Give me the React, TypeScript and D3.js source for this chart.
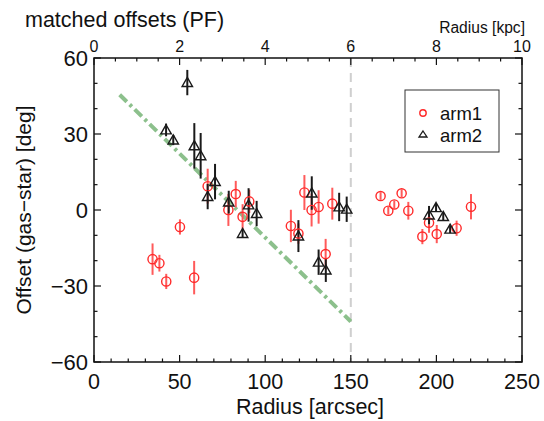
import React from "react";
import * as d3 from "d3";

const arm1Radius = [34.2, 38.2, 42.2, 50.2, 58.5, 66.4, 78.5, 82.8, 86.8, 90.7, 115, 119.4, 122.9, 127.1, 131.2, 135.3, 139.2, 167.4, 171.9, 175.4, 179.7, 183.6, 191.8, 195.7, 200.2, 211.8, 220.2];
const arm1Offset = [-19.4, -21, -28.2, -6.7, -26.7, 9.4, 0, 6.3, -2.7, 3.4, -6.3, -9.3, 6.9, 0, 1.2, -17.4, 2.5, 5.5, -0.3, 2.2, 6.6, -0.3, -10.5, -5, -9.5, -7.2, 1.3];
const arm1Err = [6.2, 3.3, 3, 3, 6.6, 6.9, 6.3, 5.2, 5, 4.6, 6.4, 4, 6.9, 6.5, 6.6, 6, 6.3, 1.5, 1.5, 1.5, 1.5, 3.5, 3, 4, 3.6, 3, 5];

const arm2Radius = [42.1, 46.3, 54.5, 58.6, 62.3, 66.4, 70.7, 78.7, 86.8, 90.3, 95, 119.4, 127.2, 131.2, 135.4, 143.2, 147.6, 195.7, 199.8, 204, 208];
const arm2Offset = [31.6, 27.6, 50.3, 25.3, 21.4, 5.3, 11.2, 3.1, -9.3, 2, -1.4, -10.3, 6.7, -20.6, -23.7, 1.2, 0.3, -2, 0.9, -2.6, -7.6];
const arm2Err = [2.5, 2, 5, 9, 9, 5, 7, 4.5, 1.5, 6.6, 5, 6.3, 6.6, 5, 4.7, 5.6, 5, 3.6, 1.5, 1.5, 1.5];

const xTicks = [0, 50, 100, 150, 200, 250];
const yTicks = [-60, -30, 0, 30, 60];
const kpcTicks = [0, 2, 4, 6, 8, 10];
const fitLineX = [15, 150];
const fitLineY = [45.5, -44];
const boundaryRadius = 150;

const FONT = "'Liberation Sans', Arial, Helvetica, sans-serif";

export default function App() {
  const x = d3.scaleLinear().domain([0, 250]).range([94, 522]);
  const y = d3.scaleLinear().domain([-60, 60]).range([362, 58]);
  const xk = d3.scaleLinear().domain([0, 10]).range([94, 522]);

  const xMinor = d3.range(0, 251, 10);
  const yMinor = d3.range(-60, 61, 10);
  const kMinor = d3.range(0, 10.01, 0.5);

  const line = d3.line<number>().x((_, i) => x(fitLineX[i])).y((d) => y(d));

  const tri = (cx: number, cy: number) => {
    const s = 5.2;
    return `M${cx},${cy - s}L${cx + s},${cy + s * 0.75}L${cx - s},${cy + s * 0.75}Z`;
  };

  const red = "#ff2a2a";
  const redErr = "#ff5a5a";
  const blk = "#1a1a1a";

  return (
    <svg width={544} height={421} style={{ position: "absolute", left: 0, top: 0, background: "#fff" }} fontFamily={FONT}>
      <line x1={x(boundaryRadius)} x2={x(boundaryRadius)} y1={y(60)} y2={y(-60)} stroke="#cfcfcf" strokeWidth={2} strokeDasharray="9,6" />
      <path d={line(fitLineY) || ""} fill="none" stroke="#8cc08c" strokeWidth={4} strokeDasharray="10,4,3,4" />

      {arm1Radius.map((r, i) => (
        <line key={"e1" + i} x1={x(r)} x2={x(r)} y1={y(arm1Offset[i] - arm1Err[i])} y2={y(arm1Offset[i] + arm1Err[i])} stroke={redErr} strokeWidth={2} />
      ))}
      {arm2Radius.map((r, i) => (
        <line key={"e2" + i} x1={x(r)} x2={x(r)} y1={y(arm2Offset[i] - arm2Err[i])} y2={y(arm2Offset[i] + arm2Err[i])} stroke={blk} strokeWidth={2} />
      ))}
      {arm1Radius.map((r, i) => (
        <circle key={"c" + i} cx={x(r)} cy={y(arm1Offset[i])} r={4.6} fill="none" stroke={red} strokeWidth={1.4} />
      ))}
      {arm2Radius.map((r, i) => (
        <path key={"t" + i} d={tri(x(r), y(arm2Offset[i]))} fill="none" stroke={blk} strokeWidth={1.4} />
      ))}

      <rect x={94} y={58} width={428} height={304} fill="none" stroke="#111" strokeWidth={1.5} />

      {xMinor.map((v) => {
        const major = v % 50 === 0;
        return <line key={"bx" + v} x1={x(v)} x2={x(v)} y1={362} y2={362 - (major ? 7 : 3.5)} stroke="#111" strokeWidth={1.2} />;
      })}
      {xTicks.map((v) => (
        <text key={"bl" + v} x={x(v)} y={389} fontSize={21.5} textAnchor="middle" fill="#111">{v}</text>
      ))}
      {kMinor.map((v) => {
        const major = Math.abs(v % 2) < 1e-6;
        return <line key={"tk" + v} x1={xk(v)} x2={xk(v)} y1={58} y2={58 + (major ? 7 : 3.5)} stroke="#111" strokeWidth={1.2} />;
      })}
      {kpcTicks.map((v) => (
        <text key={"tl" + v} x={xk(v)} y={52} fontSize={16} textAnchor="middle" fill="#111">{v}</text>
      ))}
      {yMinor.map((v) => {
        const major = v % 30 === 0;
        const len = major ? 7 : 3.5;
        return (
          <g key={"yt" + v}>
            <line x1={94} x2={94 + len} y1={y(v)} y2={y(v)} stroke="#111" strokeWidth={1.2} />
            <line x1={522} x2={522 - len} y1={y(v)} y2={y(v)} stroke="#111" strokeWidth={1.2} />
          </g>
        );
      })}
      {yTicks.map((v) => (
        <text key={"yl" + v} x={88} y={y(v) + 8} fontSize={22} textAnchor="end" fill="#111">{v < 0 ? "\u2212" + Math.abs(v) : v}</text>
      ))}

      <text x={25} y={27} fontSize={21.5} fill="#111">matched offsets (PF)</text>
      <text x={525} y={33} fontSize={15.6} textAnchor="end" fill="#111">Radius [kpc]</text>
      <text x={310} y={414} fontSize={21.5} textAnchor="middle" fill="#111">Radius [arcsec]</text>
      <text transform={`translate(31,${y(0)}) rotate(-90)`} fontSize={21} textAnchor="middle" fill="#111">Offset (gas{"\u2212"}star) [deg]</text>

      <rect x={405} y={90} width={94} height={62} fill="#fff" stroke="#333" strokeWidth={1} />
      <circle cx={423} cy={113} r={3.2} fill="none" stroke={red} strokeWidth={1.4} />
      <text x={440} y={120} fontSize={18.5} fill="#111">arm1</text>
      <path d={`M423,131L427,137L419,137Z`} fill="none" stroke={blk} strokeWidth={1.3} />
      <text x={440} y={142} fontSize={18.5} fill="#111">arm2</text>
    </svg>
  );
}
